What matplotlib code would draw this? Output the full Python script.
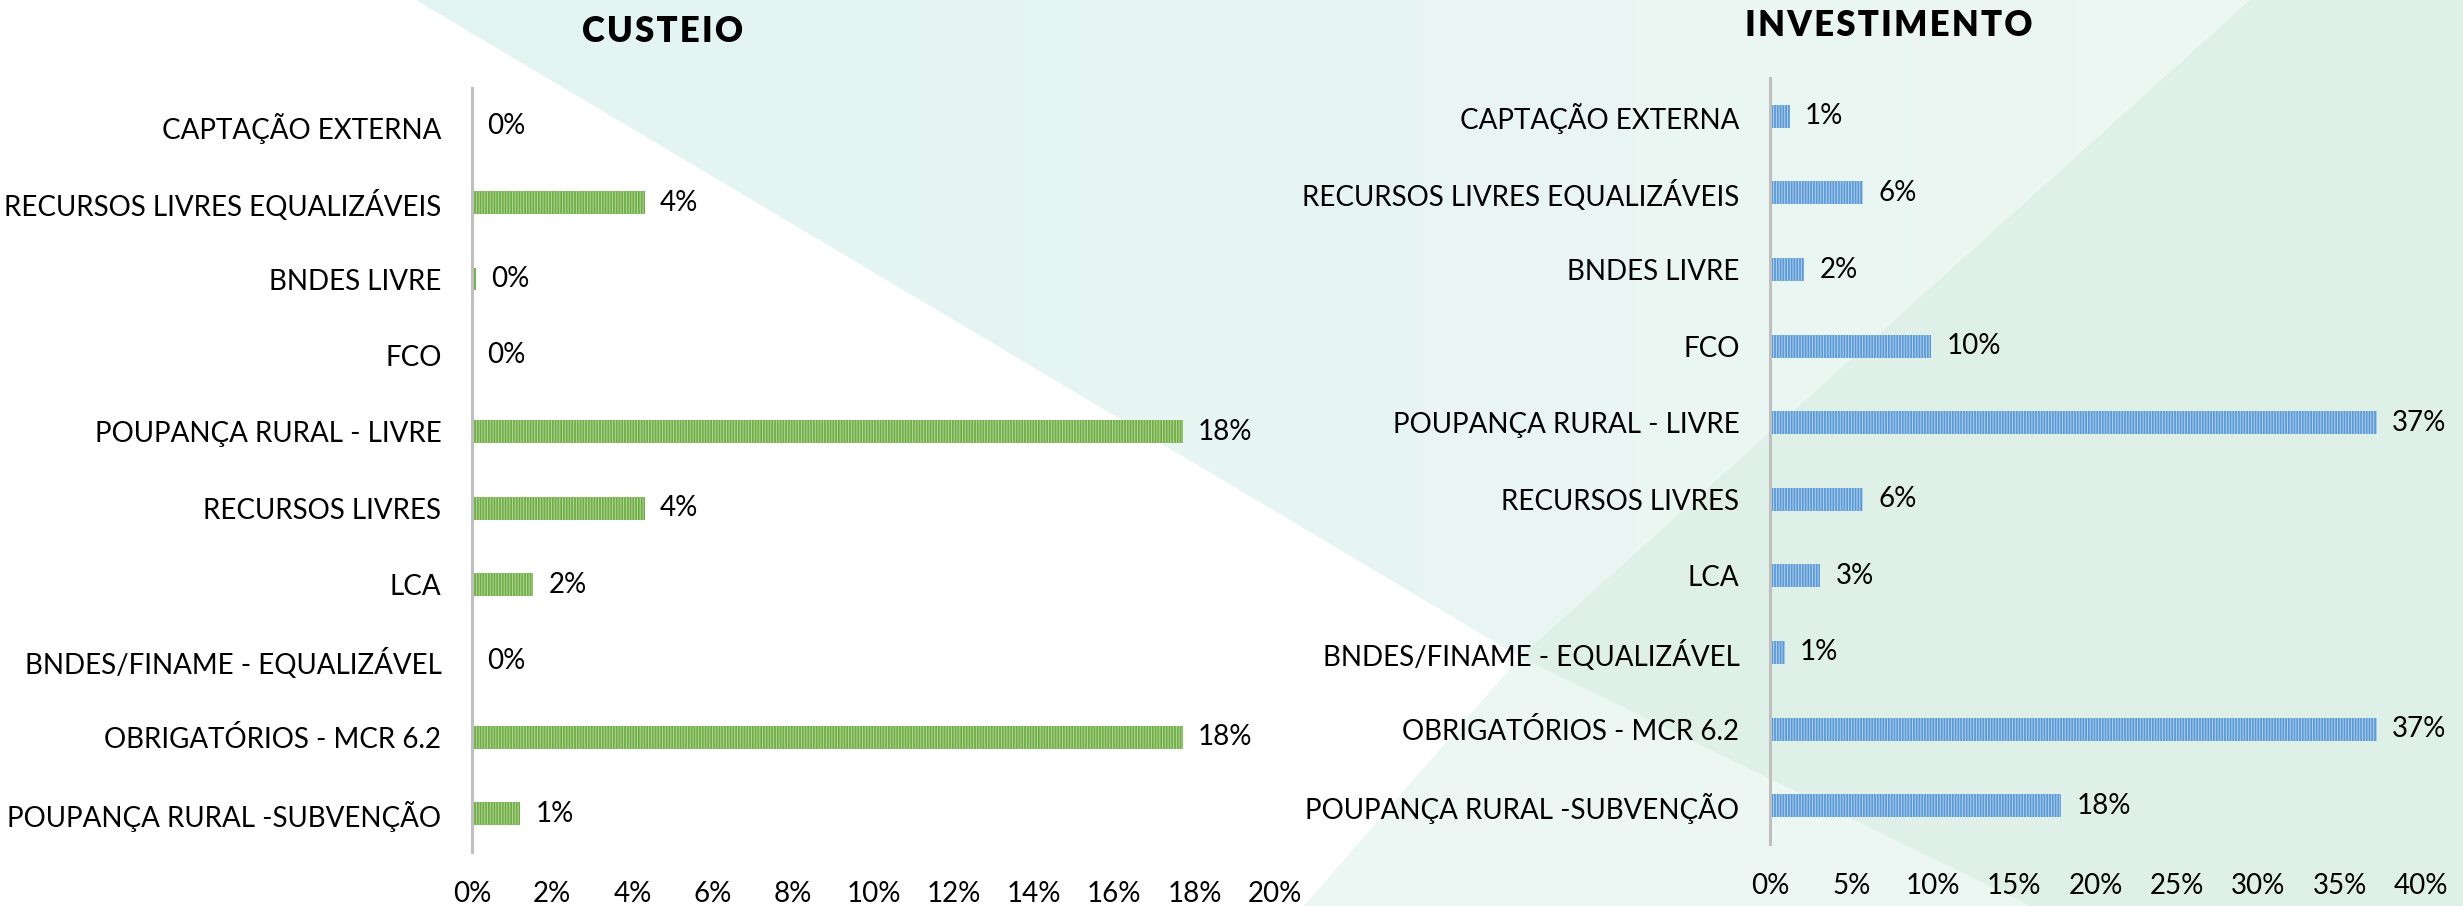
import matplotlib.pyplot as plt
from matplotlib.patches import Polygon
from matplotlib.colors import LinearSegmentedColormap
from matplotlib.ticker import PercentFormatter
import numpy as np

plt.rcParams['font.family'] = ['Lato', 'DejaVu Sans']
plt.rcParams['hatch.linewidth'] = 0.7

# Data (percent)
categories = ['CAPTAÇÃO EXTERNA', 'RECURSOS LIVRES EQUALIZÁVEIS', 'BNDES LIVRE', 'FCO',
              'POUPANÇA RURAL - LIVRE', 'RECURSOS LIVRES', 'LCA',
              'BNDES/FINAME - EQUALIZÁVEL', 'OBRIGATÓRIOS - MCR 6.2',
              'POUPANÇA RURAL -SUBVENÇÃO']
custeio = [0.0, 4.3, 0.1, 0.0, 17.7, 4.3, 1.52, 0.0, 17.7, 1.2]
investimento = [1.2, 5.7, 2.1, 9.9, 37.3, 5.7, 3.1, 0.9, 37.3, 17.9]
custeio_ticks = np.arange(0, 21, 2)
invest_ticks = np.arange(0, 41, 5)

W, H = 2463, 906
fig = plt.figure(figsize=(W / 100, H / 100), dpi=100)
fig.patch.set_facecolor('white')

# Decorative background wedges (pixel coords of the figure)
bg = fig.add_axes([0, 0, 1, 1], zorder=0)
bg.axis('off')
tip = (1520, 657)
top_wedge = Polygon([(416, 0), (2250, 0), tip], closed=True, fc='none', ec='none')
bg.add_patch(top_wedge)
grad = np.linspace(0, 1, 256).reshape(1, -1)
cmap = LinearSegmentedColormap.from_list('bgteal', ['#E2F4F2', '#EDF7F2'])
im = bg.imshow(grad, extent=(416, 2250, 657, 0), cmap=cmap, aspect='auto')
im.set_clip_path(top_wedge)
bg.add_patch(Polygon([tip, (1304, 906), (2030, 906)], closed=True, fc='#ECF7F3', ec='none'))
bg.add_patch(Polygon([tip, (2250, 0), (W, 0), (W, H), (2030, 906)], closed=True,
                     fc='#DFF0E8', ec='none'))
bg.set_xlim(0, W)
bg.set_ylim(H, 0)


def draw_panel(rect, values, ticks, face, stripe, title, title_xy):
    ax = fig.add_axes(rect, zorder=2)
    ax.set_facecolor('none')
    y = np.arange(len(categories))
    bars = ax.barh(y, values, height=0.30, color=face, edgecolor=stripe,
                   linewidth=0, hatch='||||||')
    ax.bar_label(bars, labels=[f'{v:.0f}%' for v in values], padding=11,
                 fontsize=20, color='black')
    ax.set_yticks(y)
    ax.set_yticklabels(categories, fontsize=20)
    ax.set_ylim(len(categories) - 0.5, -0.5)
    ax.set_xlim(ticks[0], ticks[-1])
    ax.set_xticks(ticks)
    ax.xaxis.set_major_formatter(PercentFormatter(decimals=0))
    ax.tick_params(axis='x', length=0, pad=21, labelsize=20)
    ax.tick_params(axis='y', length=0, pad=22)
    for s in ['top', 'right', 'bottom']:
        ax.spines[s].set_visible(False)
    ax.spines['left'].set_color('#BFBFBF')
    ax.spines['left'].set_linewidth(2.2)
    fig.text(title_xy[0] / W, 1 - title_xy[1] / H, '\u200a'.join(title),
             ha='center', va='center', fontsize=25, fontweight='heavy')
    return ax


draw_panel([472 / W, 1 - 852 / H, 803 / W, 764 / H], custeio, custeio_ticks,
           '#70AD47', '#B5D99B', 'CUSTEIO', (663, 31))
draw_panel([1770 / W, 1 - 844 / H, 651 / W, 766 / H], investimento, invest_ticks,
           '#5B9BD5', '#B4D0EE', 'INVESTIMENTO', (1889, 25))

fig.savefig('out.png', dpi=100)
